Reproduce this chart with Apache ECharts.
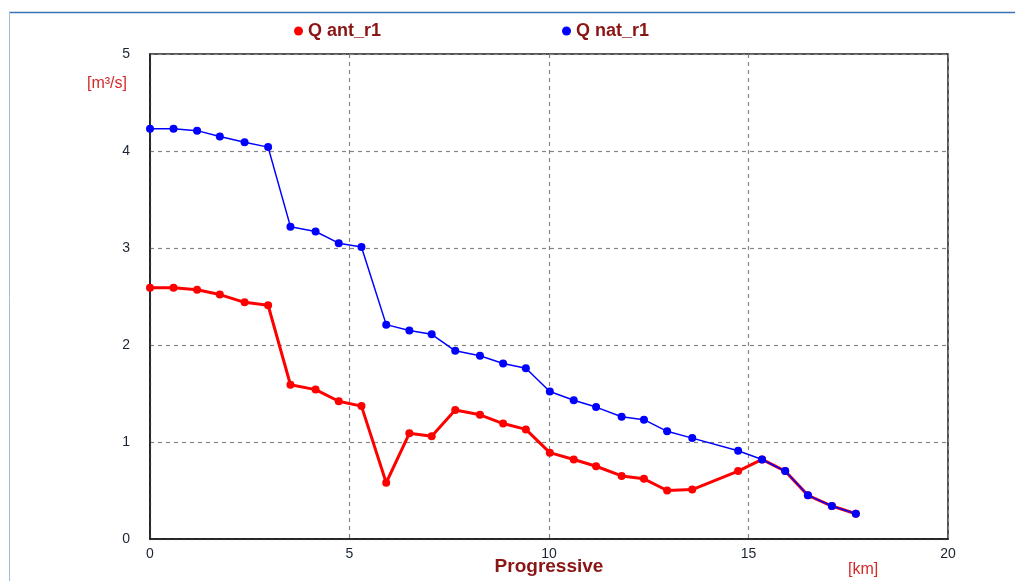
<!DOCTYPE html>
<html>
<head>
<meta charset="utf-8">
<script src="https://cdn.jsdelivr.net/npm/echarts@6/dist/echarts.min.js"></script>
<style>
  html, body { margin: 0; padding: 0; background: #fff; }
  #chart { width: 1015px; height: 581px; }
</style>
</head>
<body>
<div id="chart"></div>
<script>
// Progressive distance along the reach [km]
const progressiveKm = [0, 0.59, 1.18, 1.75, 2.37, 2.96, 3.52, 4.15, 4.73, 5.30,
  5.92, 6.50, 7.06, 7.65, 8.27, 8.85, 9.42, 10.02, 10.62, 11.18,
  11.82, 12.38, 12.96, 13.59, 14.74, 15.34, 15.92, 16.49, 17.09, 17.69];

// Discharge, anthropised state [m³/s]
const qAnt = [2.59, 2.59, 2.57, 2.52, 2.44, 2.41, 1.59, 1.54, 1.42, 1.37,
  0.58, 1.09, 1.06, 1.33, 1.28, 1.19, 1.13, 0.89, 0.82, 0.75,
  0.65, 0.62, 0.50, 0.51, 0.70, 0.82, 0.70, 0.45, 0.34, 0.26];

// Discharge, natural state [m³/s]
const qNat = [4.23, 4.23, 4.21, 4.15, 4.09, 4.04, 3.22, 3.17, 3.05, 3.01,
  2.21, 2.15, 2.11, 1.94, 1.89, 1.81, 1.76, 1.52, 1.43, 1.36,
  1.26, 1.23, 1.11, 1.04, 0.91, 0.82, 0.70, 0.45, 0.34, 0.26];

const seriesNames = ['Q ant_r1', 'Q nat_r1'];
const xTicks = [0, 5, 10, 15, 20];
const yTicks = [0, 1, 2, 3, 4, 5];

const zip = (xs, ys) => xs.map((x, i) => [x, ys[i]]);

const labelColor = '#1a2433';
const titleColor = '#8b1414';

const chart = echarts.init(document.getElementById('chart'), null, { renderer: 'canvas' });

chart.setOption({
  animation: false,
  backgroundColor: '#fff',
  grid: {
    left: 150, right: 67, top: 54, bottom: 42,
    outerBoundsMode: 'none', containLabel: false,
    show: true, borderColor: '#1a1a1a', borderWidth: 1.5, backgroundColor: '#fff'
  },
  legend: [
    {
      data: [seriesNames[0]], left: 289, top: 17,
      icon: 'circle', itemWidth: 9, itemHeight: 9, itemGap: 6,
      textStyle: { color: titleColor, fontFamily: 'Liberation Sans', fontWeight: 'bold', fontSize: 18 }
    },
    {
      data: [seriesNames[1]], left: 557, top: 17,
      icon: 'circle', itemWidth: 9, itemHeight: 9, itemGap: 6,
      textStyle: { color: titleColor, fontFamily: 'Liberation Sans', fontWeight: 'bold', fontSize: 18 }
    }
  ],
  xAxis: {
    type: 'value',
    min: xTicks[0], max: xTicks[xTicks.length - 1], interval: 5,
    axisLine: { show: true, lineStyle: { color: '#1a1a1a', width: 1.5 } },
    axisTick: { show: false },
    axisLabel: { color: labelColor, fontFamily: 'Liberation Sans', fontSize: 14, margin: 8 },
    splitLine: { show: true, lineStyle: { color: '#858585', type: [4, 4], width: 1.2 } }
  },
  yAxis: {
    type: 'value',
    min: yTicks[0], max: yTicks[yTicks.length - 1], interval: 1,
    axisLine: { show: true, lineStyle: { color: '#1a1a1a', width: 1.5 } },
    axisTick: { show: false },
    axisLabel: { color: labelColor, fontFamily: 'Liberation Sans', fontSize: 14, margin: 20 },
    splitLine: { show: true, lineStyle: { color: '#858585', type: [4, 4], width: 1.2 } }
  },
  series: [
    {
      name: seriesNames[0], type: 'line', data: zip(progressiveKm, qAnt),
      color: '#ff0000', symbol: 'circle', symbolSize: 8, showAllSymbol: true,
      lineStyle: { color: '#ff0000', width: 3 }, itemStyle: { color: '#ff0000' },
      z: 2
    },
    {
      name: seriesNames[1], type: 'line', data: zip(progressiveKm, qNat),
      color: '#0000ff', symbol: 'circle', symbolSize: 8, showAllSymbol: true,
      lineStyle: { color: '#0000ff', width: 1.5 }, itemStyle: { color: '#0000ff' },
      z: 3
    }
  ],
  graphic: [
    { type: 'line', shape: { x1: 9, y1: 12.5, x2: 1015, y2: 12.5 }, style: { stroke: '#3a72b8', lineWidth: 1.5 } },
    { type: 'line', shape: { x1: 9.5, y1: 12, x2: 9.5, y2: 581 }, style: { stroke: '#9fbde0', lineWidth: 1 } },
    { type: 'text', left: 87, top: 76, style: { text: '[m³/s]', fill: '#d42a2a', font: '16px "Liberation Sans"' } },
    { type: 'text', left: 848, top: 562, style: { text: '[km]', fill: '#d42a2a', font: '16px "Liberation Sans"' } },
    {
      type: 'text', x: 549, y: 557,
      style: { text: 'Progressive', fill: titleColor, font: 'bold 19px "Liberation Sans"', align: 'center', verticalAlign: 'top' }
    }
  ]
});
</script>
</body>
</html>
